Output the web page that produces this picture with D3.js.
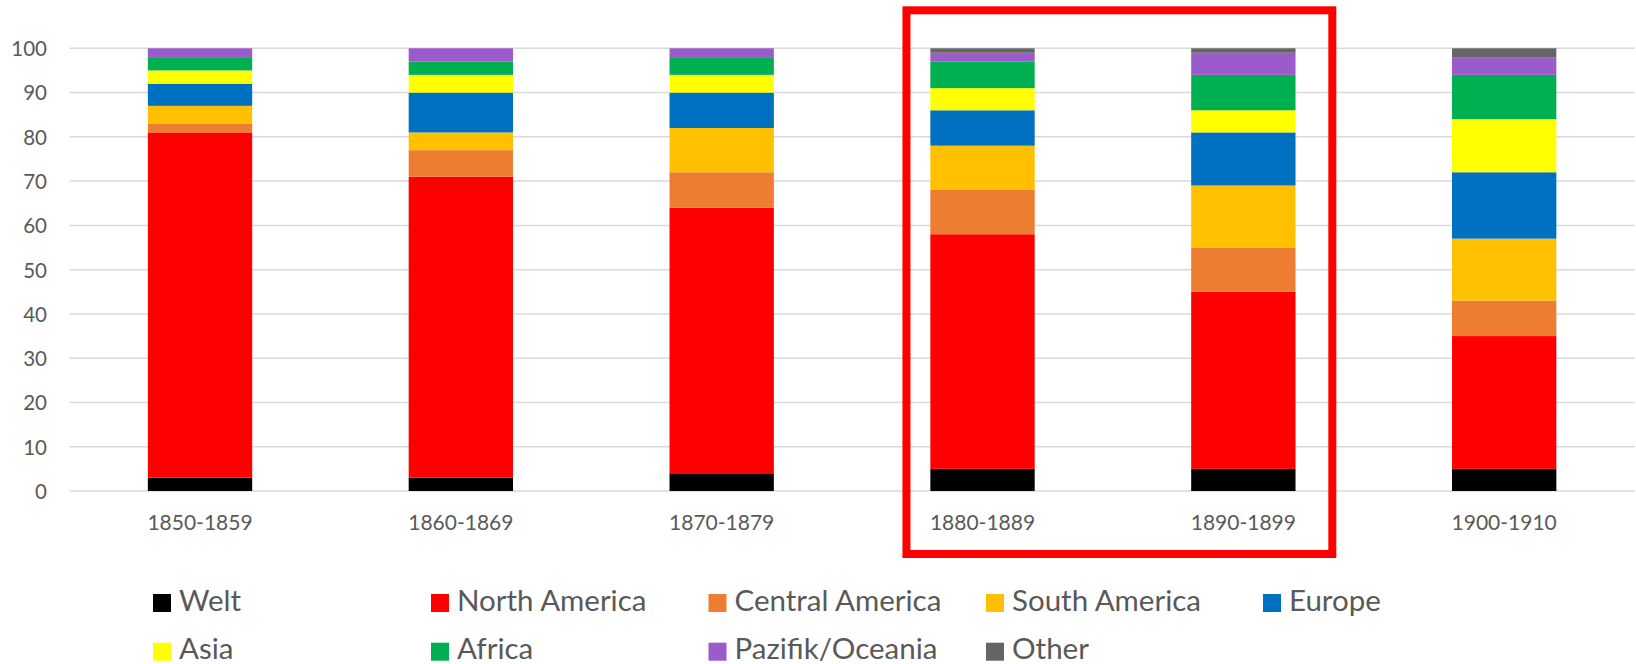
<!DOCTYPE html>
<html>
<head>
<meta charset="utf-8">
<script src="https://cdn.jsdelivr.net/npm/d3@7"></script>
<style>
  html, body { margin: 0; padding: 0; background: #fff; }
  svg { display: block; }
</style>
</head>
<body>
<svg id="chart" width="1636" height="664"></svg>
<script>
// ---- data ----
const categories = ["1850-1859", "1860-1869", "1870-1879", "1880-1889", "1890-1899", "1900-1910"];
const seriesNames = ["Welt", "North America", "Central America", "South America", "Europe", "Asia", "Africa", "Pazifik/Oceania", "Other"];
const welt           = [3, 3, 4, 5, 5, 5];
const northAmerica   = [78, 68, 60, 53, 40, 30];
const centralAmerica = [2, 6, 8, 10, 10, 8];
const southAmerica   = [4, 4, 10, 10, 14, 14];
const europe         = [5, 9, 8, 8, 12, 15];
const asia           = [3, 4, 4, 5, 5, 12];
const africa         = [3, 3, 4, 6, 8, 10];
const pacific        = [2, 3, 2, 2, 5, 4];
const other          = [0, 0, 0, 1, 1, 2];
const yTicks = [0, 10, 20, 30, 40, 50, 60, 70, 80, 90, 100];
const highlighted = ["1880-1889", "1890-1899"];

const seriesValues = [welt, northAmerica, centralAmerica, southAmerica, europe, asia, africa, pacific, other];
const colors = ["#000000", "#FF0000", "#ED7D31", "#FFC000", "#0070C0", "#FFFF00", "#00B050", "#9B5BCB", "#656565"];

const rows = categories.map((c, i) => {
  const r = { cat: c };
  seriesNames.forEach((s, k) => { r[s] = seriesValues[k][i]; });
  return r;
});

const svg = d3.select("#chart");
const textColor = "#595959";
const font = "Lato, 'Open Sans', sans-serif";

const x = d3.scaleBand().domain(categories).range([69.6, 1634.6]).paddingInner(0.6).paddingOuter(0.3);
const y = d3.scaleLinear().domain([0, 100]).range([491, 48.3]);
const color = d3.scaleOrdinal().domain(seriesNames).range(colors);

// gridlines
svg.append("g").selectAll("line").data(yTicks).join("line")
  .attr("x1", 69.6).attr("x2", 1634.6)
  .attr("y1", d => y(d)).attr("y2", d => y(d))
  .attr("stroke", "#D9D9D9").attr("stroke-width", 1.5);

// y labels
const yAxis = d3.axisLeft(y).tickValues(yTicks).tickSize(0).tickPadding(0);
const gy = svg.append("g").attr("transform", "translate(47,0)").call(yAxis);
gy.select(".domain").remove();
gy.selectAll("text").attr("font-family", font).attr("font-size", 20.5).attr("fill", textColor).attr("dy", "0.36em");

// bars
const stacked = d3.stack().keys(seriesNames)(rows);
svg.append("g").selectAll("g").data(stacked).join("g")
  .attr("fill", d => color(d.key))
  .selectAll("rect").data(d => d).join("rect")
  .attr("x", d => x(d.data.cat))
  .attr("width", x.bandwidth())
  .attr("y", d => y(d[1]))
  .attr("height", d => y(d[0]) - y(d[1]));

// x labels
const xAxis = d3.axisBottom(x).tickSize(0).tickPadding(0);
const gx = svg.append("g").attr("transform", "translate(0,530)").call(xAxis);
gx.select(".domain").remove();
gx.selectAll("text").attr("font-family", font).attr("font-size", 21).attr("fill", textColor).attr("dy", 0);

// highlight box around 1880-1899
const boxLeft = x(highlighted[0]) - 23.9;
const boxRight = x(highlighted[1]) + x.bandwidth() + 36.8;
svg.append("rect")
  .attr("x", boxLeft)
  .attr("y", 10.3)
  .attr("width", boxRight - boxLeft)
  .attr("height", 543.7)
  .attr("fill", "none").attr("stroke", "#FF0000").attr("stroke-width", 8);

// legend
const legCols = [153, 431, 708.5, 986, 1263];
const legRows = [594, 642.7];
const leg = svg.append("g").selectAll("g").data(seriesNames).join("g")
  .attr("transform", (d, i) => `translate(${legCols[i % 5]},${legRows[Math.floor(i / 5)]})`);
leg.append("rect").attr("width", 18).attr("height", 18).attr("fill", d => color(d));
leg.append("text").attr("x", 26).attr("y", 16.5).text(d => d)
  .attr("font-family", font).attr("font-size", 29.5).attr("fill", textColor);
</script>
</body>
</html>
